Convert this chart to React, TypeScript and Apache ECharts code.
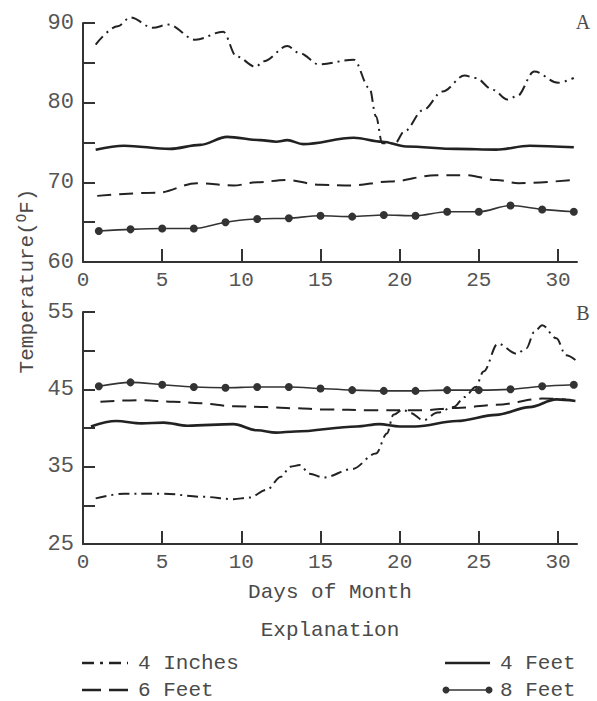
import React, { useEffect, useRef } from "react";
import * as echarts from "echarts";

// ---------- Data ----------
// Panel A
const inch4A_days = [0.8, 2.2, 3.0, 4.4, 5.4, 7.1, 8.85, 9.7, 10.9, 11.4, 12.9, 13.7, 14.9, 17.1, 18.1, 18.5, 18.9, 19.7, 20.3, 21.5, 22.7, 24.1, 24.8, 25.9, 26.8, 27.4, 28.5, 30.0, 31.0];
const inch4A_vals = [87.3, 89.6, 90.7, 89.4, 89.8, 87.9, 88.9, 85.8, 84.5, 85.2, 87.1, 86.2, 84.8, 85.4, 81.8, 78.3, 74.9, 74.9, 76.4, 79.1, 81.4, 83.4, 83.1, 81.6, 80.4, 80.8, 83.9, 82.5, 83.1];

const ft4A_days = [0.8, 2.6, 5.5, 7.4, 9.1, 11.2, 12.2, 12.9, 13.9, 17.1, 18.9, 20.4, 23.6, 26.1, 28.2, 31.0];
const ft4A_vals = [74.1, 74.6, 74.2, 74.7, 75.7, 75.3, 75.1, 75.3, 74.8, 75.6, 75.1, 74.5, 74.2, 74.1, 74.6, 74.4];

const ft6A_days = [0.9, 4.7, 7.2, 9.5, 11.0, 12.8, 15.0, 16.9, 19.4, 22.3, 24.2, 26.1, 27.5, 31.0];
const ft6A_vals = [68.3, 68.7, 69.9, 69.6, 70.0, 70.3, 69.7, 69.6, 70.1, 70.9, 70.9, 70.3, 69.9, 70.3];

const ft8_days = [1, 3, 5, 7, 9, 11, 13, 15, 17, 19, 21, 23, 25, 27, 29, 31];
const ft8A_vals = [63.9, 64.1, 64.2, 64.2, 65.0, 65.4, 65.5, 65.8, 65.7, 65.9, 65.8, 66.3, 66.3, 67.1, 66.6, 66.3];

// Panel B
const inch4B_days = [0.8, 2.6, 5.1, 7.6, 9.5, 10.5, 11.6, 12.5, 13.1, 13.7, 14.3, 15.2, 17.0, 18.5, 19.2, 19.6, 20.2, 20.7, 21.5, 22.4, 23.4, 24.1, 24.8, 25.3, 26.2, 27.4, 28.0, 28.5, 29.0, 29.9, 30.5, 31.1];
const inch4B_vals = [30.9, 31.5, 31.5, 31.1, 30.8, 31.0, 32.0, 33.7, 35.0, 35.2, 34.1, 33.6, 34.7, 36.7, 39.3, 41.7, 42.4, 41.9, 41.0, 42.0, 42.7, 44.0, 45.3, 47.3, 50.9, 49.6, 50.3, 52.4, 53.3, 51.6, 49.4, 48.8];

const ft4B_days = [0.5, 2.1, 3.7, 5.1, 6.6, 9.5, 11.0, 12.2, 13.4, 17.3, 18.7, 20.0, 21.0, 23.6, 26.1, 28.2, 29.9, 31.1];
const ft4B_vals = [40.2, 40.9, 40.6, 40.7, 40.3, 40.5, 39.7, 39.4, 39.55, 40.2, 40.5, 40.2, 40.2, 40.9, 41.7, 42.7, 43.7, 43.5];

const ft6B_days = [1.1, 3.6, 5.7, 7.4, 9.5, 11.6, 13.4, 15.2, 18.3, 21.5, 23.6, 26.1, 29.0, 30.5];
const ft6B_vals = [43.4, 43.6, 43.4, 43.2, 42.8, 42.7, 42.55, 42.4, 42.3, 42.3, 42.6, 43.0, 43.8, 43.7];

const ft8B_vals = [45.4, 45.9, 45.6, 45.3, 45.2, 45.3, 45.3, 45.1, 44.9, 44.8, 44.8, 44.9, 44.9, 45.0, 45.4, 45.6];

// Axes / labels
const xLabels = [0, 5, 10, 15, 20, 25, 30];
const xTicks = [5, 10, 15, 20, 25, 30];
const yLabelsA = [60, 70, 80, 90];
const yTicksA = [65, 70, 75, 80, 85, 90];
const yLabelsB = [25, 35, 45, 55];
const yTicksB = [30, 35, 40, 45, 50, 55];

const seriesNames = ["4 Inches", "6 Feet", "4 Feet", "8 Feet"];

const FONT = "Liberation Mono";
const INK = "#222";
const AXIS = "#333";
const TXT = "#4a4a4a";

const pairs = (xs: number[], ys: number[]) => xs.map((x, i) => [x, ys[i]]);

const DASHDOT = [11, 5, 2, 5];
const DASH = [14, 8];

export default function App() {
  const ref = useRef<HTMLDivElement>(null);
  useEffect(() => {
    if (!ref.current) return;
    const chart = echarts.init(ref.current, undefined, { renderer: "svg" });

    const xAxisCommon = (gridIndex: number) => ({
      type: "value",
      gridIndex,
      min: 0,
      max: 31.2,
      interval: 5,
      splitLine: { show: false },
      axisLine: { show: true, lineStyle: { color: AXIS, width: 2 } },
      axisTick: { show: true, inside: true, length: 13, customValues: xTicks, lineStyle: { color: AXIS, width: 2 } },
      axisLabel: { customValues: xLabels, color: "#555", fontFamily: FONT, fontSize: 21, margin: 8 },
    });
    const yAxisCommon = (gridIndex: number, min: number, max: number, labels: number[], ticks: number[]) => ({
      type: "value",
      gridIndex,
      min,
      max,
      interval: 5,
      splitLine: { show: false },
      axisLine: { show: true, lineStyle: { color: AXIS, width: 2 } },
      axisTick: { show: true, inside: true, length: 12, customValues: ticks, lineStyle: { color: AXIS, width: 2 } },
      axisLabel: { customValues: labels, color: "#555", fontFamily: FONT, fontSize: 22, margin: 9 },
    });

    const line = (name: string, data: number[][], xi: number, dash: any, width: number) => ({
      name,
      type: "line",
      xAxisIndex: xi,
      yAxisIndex: xi,
      data,
      clip: false,
      smooth: 0.35,
      smoothMonotone: "x",
      showSymbol: false,
      lineStyle: { color: INK, width, type: dash },
    });
    const dotted = (name: string, data: number[][], xi: number) => ({
      name,
      type: "line",
      xAxisIndex: xi,
      yAxisIndex: xi,
      data,
      clip: false,
      smooth: 0.3,
      showSymbol: true,
      symbol: "circle",
      symbolSize: 8,
      itemStyle: { color: "#333" },
      lineStyle: { color: "#333", width: 1.6 },
    });

    const legendY1 = 663;
    const legendY2 = 690;

    chart.setOption({
      animation: false,
      backgroundColor: "#fff",
      grid: [
        { left: 83, top: 23, width: 494, height: 239 },
        { left: 83, top: 312, width: 494, height: 232 },
      ],
      xAxis: [xAxisCommon(0), xAxisCommon(1)],
      yAxis: [
        yAxisCommon(0, 60, 90, yLabelsA, yTicksA),
        yAxisCommon(1, 25, 55, yLabelsB, yTicksB),
      ],
      series: [
        line(seriesNames[0], pairs(inch4A_days, inch4A_vals), 0, DASHDOT, 2),
        line(seriesNames[1], pairs(ft6A_days, ft6A_vals), 0, DASH, 2),
        line(seriesNames[2], pairs(ft4A_days, ft4A_vals), 0, "solid", 2.6),
        dotted(seriesNames[3], pairs(ft8_days, ft8A_vals), 0),
        line(seriesNames[0], pairs(inch4B_days, inch4B_vals), 1, DASHDOT, 2),
        line(seriesNames[1], pairs(ft6B_days, ft6B_vals), 1, DASH, 2),
        line(seriesNames[2], pairs(ft4B_days, ft4B_vals), 1, "solid", 2.6),
        dotted(seriesNames[3], pairs(ft8_days, ft8B_vals), 1),
      ],
      graphic: [
        { type: "text", x: 583, y: 22, style: { text: "A", font: `20px "Liberation Serif"`, fill: TXT, align: "center", verticalAlign: "middle" } },
        { type: "text", x: 583, y: 313, style: { text: "B", font: `20px "Liberation Serif"`, fill: TXT, align: "center", verticalAlign: "middle" } },
        {
          type: "text",
          x: 27,
          y: 281,
          rotation: Math.PI / 2,
          style: {
            text: "{a|Temperature(}{s|O}{a|F)}",
            fill: TXT,
            align: "center",
            verticalAlign: "middle",
            rich: {
              a: { fontFamily: FONT, fontSize: 21, fill: TXT, color: TXT },
              s: { fontFamily: FONT, fontSize: 14, fill: TXT, color: TXT, padding: [0, 0, 10, 0] },
            },
          },
        },
        { type: "text", x: 330, y: 592, style: { text: "Days of Month", font: `21px "${FONT}"`, fill: TXT, align: "center", verticalAlign: "middle" } },
        { type: "text", x: 330, y: 630, style: { text: "Explanation", font: `21px "${FONT}"`, fill: TXT, align: "center", verticalAlign: "middle" } },
        // legend: left column
        { type: "line", shape: { x1: 82, y1: legendY1, x2: 128, y2: legendY1 }, style: { stroke: INK, lineWidth: 2.4, lineDash: [12, 6, 3, 6] } },
        { type: "text", x: 138, y: legendY1, style: { text: seriesNames[0], font: `21px "${FONT}"`, fill: TXT, verticalAlign: "middle" } },
        { type: "line", shape: { x1: 82, y1: legendY2, x2: 128, y2: legendY2 }, style: { stroke: INK, lineWidth: 2.4, lineDash: [19, 8] } },
        { type: "text", x: 138, y: legendY2, style: { text: seriesNames[1], font: `21px "${FONT}"`, fill: TXT, verticalAlign: "middle" } },
        // legend: right column
        { type: "line", shape: { x1: 445, y1: legendY1, x2: 490, y2: legendY1 }, style: { stroke: INK, lineWidth: 2.6 } },
        { type: "text", x: 500, y: legendY1, style: { text: seriesNames[2], font: `21px "${FONT}"`, fill: TXT, verticalAlign: "middle" } },
        { type: "line", shape: { x1: 445, y1: legendY2, x2: 490, y2: legendY2 }, style: { stroke: "#333", lineWidth: 1.6 } },
        { type: "circle", shape: { cx: 446, cy: legendY2, r: 3.5 }, style: { fill: "#333" } },
        { type: "circle", shape: { cx: 489, cy: legendY2, r: 3.5 }, style: { fill: "#333" } },
        { type: "text", x: 500, y: legendY2, style: { text: seriesNames[3], font: `21px "${FONT}"`, fill: TXT, verticalAlign: "middle" } },
      ],
    });
    return () => chart.dispose();
  }, []);
  return <div ref={ref} style={{ position: "fixed", left: 0, top: 0, width: 597, height: 701 }} />;
}
